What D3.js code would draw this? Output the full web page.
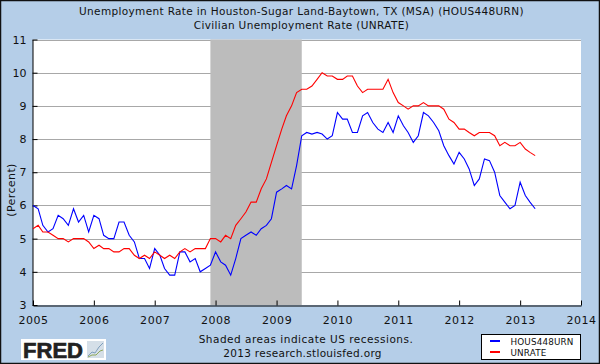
<!DOCTYPE html>
<html>
<head>
<meta charset="utf-8">
<script src="https://cdn.jsdelivr.net/npm/d3@7/dist/d3.min.js"></script>
<style>
  html, body { margin: 0; padding: 0; background: #b5cee8; }
  svg { display: block; }
  text { font-family: "DejaVu Sans", sans-serif; fill: #111; }
</style>
</head>
<body>
<svg id="chart" width="600" height="364"></svg>
<script>
// monthly values, Jan 2005 - Apr 2013
const houston = [
  6.0, 5.9, 5.4, 5.2, 5.3, 5.7, 5.6, 5.4, 5.9, 5.5, 5.7, 5.2,
  5.7, 5.6, 5.1, 5.0, 5.0, 5.5, 5.5, 5.1, 4.9, 4.4, 4.4, 4.1,
  4.7, 4.5, 4.1, 3.9, 3.9, 4.6, 4.6, 4.3, 4.4, 4.0, 4.1, 4.2,
  4.6, 4.3, 4.2, 3.9, 4.4, 5.0, 5.1, 5.2, 5.1, 5.3, 5.4, 5.6,
  6.4, 6.5, 6.6, 6.5, 7.2, 8.1, 8.2, 8.15, 8.2, 8.15, 8.0, 8.1,
  8.8, 8.6, 8.6, 8.2, 8.2, 8.7, 8.8, 8.5, 8.3, 8.2, 8.5, 8.2,
  8.7, 8.4, 8.2, 7.9, 8.1, 8.8, 8.7, 8.5, 8.25, 7.8, 7.5, 7.25,
  7.6, 7.4, 7.1, 6.6, 6.8, 7.4, 7.35, 7.0, 6.3, 6.1, 5.9, 6.0,
  6.7, 6.3, 6.1, 5.9
];
const unrate = [
  5.3, 5.4, 5.2, 5.2, 5.1, 5.0, 5.0, 4.9, 5.0, 5.0, 5.0, 4.9,
  4.7, 4.8, 4.7, 4.7, 4.6, 4.6, 4.7, 4.7, 4.5, 4.4, 4.5, 4.4,
  4.6, 4.5, 4.4, 4.5, 4.4, 4.6, 4.7, 4.6, 4.7, 4.7, 4.7, 5.0,
  5.0, 4.9, 5.1, 5.0, 5.4, 5.6, 5.8, 6.1, 6.1, 6.5, 6.8, 7.3,
  7.8, 8.3, 8.7, 9.0, 9.4, 9.5, 9.5, 9.6, 9.8, 10.0, 9.9, 9.9,
  9.8, 9.8, 9.9, 9.9, 9.6, 9.4, 9.5, 9.5, 9.5, 9.5, 9.8, 9.4,
  9.1, 9.0, 8.9, 9.0, 9.0, 9.1, 9.0, 9.0, 9.0, 8.9, 8.6, 8.5,
  8.3, 8.3, 8.2, 8.1, 8.2, 8.2, 8.2, 8.1, 7.8, 7.9, 7.8, 7.8,
  7.9, 7.7, 7.6, 7.5
];
const yTicks = [3, 4, 5, 6, 7, 8, 9, 10, 11];
const xYears = [2005, 2006, 2007, 2008, 2009, 2010, 2011, 2012, 2013, 2014];
const recession = [new Date(2007, 11, 1), new Date(2009, 5, 1)];
const titleLines = [
  "Unemployment Rate in Houston-Sugar Land-Baytown, TX (MSA) (HOUS448URN)",
  "Civilian Unemployment Rate (UNRATE)"
];
const seriesNames = ["HOUS448URN", "UNRATE"];
const seriesColors = ["#0000ff", "#ff0000"];

const months = houston.map((d, i) => new Date(2005, i, 1));

const svg = d3.select("#chart");
const plot = { left: 33, right: 581, top: 39.5, bottom: 305 };

const x = d3.scaleTime().domain([new Date(2005, 0, 1), new Date(2014, 0, 1)]).range([plot.left, plot.right]);
const y = d3.scaleLinear().domain([3, 11]).range([plot.bottom, plot.top]);

// background + frame
svg.append("rect").attr("x", 0.5).attr("y", 0.5).attr("width", 599).attr("height", 363)
  .attr("fill", "#b5cee8").attr("stroke", "#111").attr("stroke-width", 1.5);

// plot area
svg.append("rect").attr("x", plot.left).attr("y", plot.top)
  .attr("width", plot.right - plot.left).attr("height", plot.bottom - plot.top)
  .attr("fill", "#fff");

// grid
svg.append("g").selectAll("line").data(yTicks.filter(d => d > 3)).join("line")
  .attr("x1", plot.left).attr("x2", plot.right)
  .attr("y1", d => Math.round(y(d)) + 0.5).attr("y2", d => Math.round(y(d)) + 0.5)
  .attr("stroke", "#a8a8a8").attr("stroke-width", 1.2);

// recession band
svg.append("rect")
  .attr("x", x(recession[0])).attr("y", plot.top)
  .attr("width", x(recession[1]) - x(recession[0])).attr("height", plot.bottom - plot.top)
  .attr("fill", "#bcbcbc");

// axes, ticks point into the plot
const xAxis = d3.axisBottom(x)
  .tickValues(xYears.map(d => new Date(d, 0, 1)))
  .tickFormat(d3.timeFormat("%Y"))
  .tickSizeInner(-5).tickSizeOuter(0).tickPadding(11);
const gx = svg.append("g").attr("transform", `translate(0,${plot.bottom + 0.5})`).call(xAxis);
gx.selectAll("text").attr("font-size", 11).style("letter-spacing", "0.55px");
gx.selectAll("line, path").attr("stroke", "#000").attr("stroke-width", 1);

const yAxis = d3.axisLeft(y)
  .tickValues(yTicks).tickFormat(d3.format("d"))
  .tickSizeInner(-5).tickSizeOuter(0).tickPadding(6);
const gy = svg.append("g").attr("transform", `translate(${plot.left - 0.5},0)`).call(yAxis);
gy.selectAll("text").attr("font-size", 11);
gy.selectAll("line, path").attr("stroke", "#000").attr("stroke-width", 1);

// series
const line = d3.line().x((d, i) => x(months[i])).y(d => y(d));
[houston, unrate].forEach((s, i) => {
  svg.append("path").datum(s).attr("d", line)
    .attr("fill", "none").attr("stroke", seriesColors[i]).attr("stroke-width", 1.1);
});

// titles
svg.append("g").selectAll("text").data(titleLines).join("text")
  .attr("x", 301.5).attr("y", (d, i) => 15 + i * 14)
  .attr("text-anchor", "middle").attr("font-size", 10.5)
  .style("letter-spacing", "0.35px")
  .text(d => d);

// y label
svg.append("text").attr("transform", "translate(15,190) rotate(-90)")
  .attr("text-anchor", "middle").attr("font-size", 11).style("letter-spacing", "0.4px")
  .text("(Percent)");

// footer notes
svg.append("text").attr("x", 306).attr("y", 343).attr("text-anchor", "middle")
  .attr("font-size", 10.5).style("letter-spacing", "0.5px")
  .text("Shaded areas indicate US recessions.");
svg.append("text").attr("x", 302.5).attr("y", 357).attr("text-anchor", "middle")
  .attr("font-size", 10.5).style("letter-spacing", "0.3px")
  .text("2013 research.stlouisfed.org");

// legend
const legend = svg.append("g").attr("transform", "translate(481.5,334.5)");
legend.append("rect").attr("width", 99).attr("height", 25).attr("fill", "#fff").attr("stroke", "#000");
seriesNames.forEach((name, i) => {
  const ly = 6.5 + i * 11;
  legend.append("line").attr("x1", 8.5).attr("x2", 18.5).attr("y1", ly).attr("y2", ly)
    .attr("stroke", seriesColors[i]).attr("stroke-width", 2);
  legend.append("text").attr("x", 29).attr("y", ly + 3.5).attr("font-size", 8.8)
    .style("letter-spacing", "0.15px").text(name);
});

// FRED logo
const logo = svg.append("g").attr("transform", "translate(21,339)");
logo.append("rect").attr("width", 85).attr("height", 21).attr("fill", "#fff");
logo.append("text").attr("x", 2).attr("y", 18.5)
  .style("font-family", "'Liberation Sans', sans-serif").attr("font-size", 22).attr("font-weight", 700)
  .style("fill", "#222").attr("stroke", "#222").attr("stroke-width", 0.7)
  .attr("textLength", 60).attr("lengthAdjust", "spacingAndGlyphs")
  .text("FRED");
logo.append("rect").attr("x", 66).attr("y", 2).attr("width", 17).attr("height", 17).attr("fill", "#d5dfe8");
logo.append("path").attr("d", "M67,17 L71,13 L74,14 L78,8 L82,4").attr("fill", "none").attr("stroke", "#7f9fbd");
logo.append("path").attr("d", "M67,18 L71,16 L75,16 L79,12 L82,11").attr("fill", "none").attr("stroke", "#8fa85a");
</script>
</body>
</html>
